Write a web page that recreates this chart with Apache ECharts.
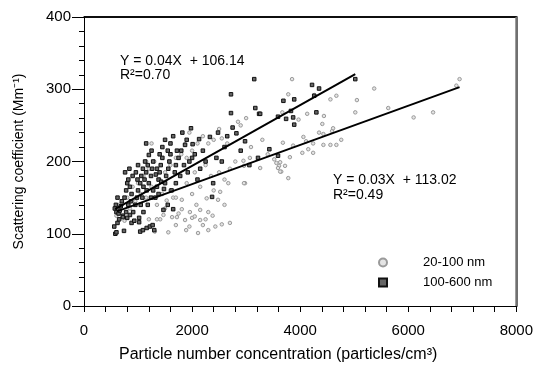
<!DOCTYPE html>
<html><head><meta charset="utf-8">
<script src="https://cdn.jsdelivr.net/npm/echarts@6/dist/echarts.min.js"></script>
<style>html,body{margin:0;padding:0;background:#fff}#c{width:536px;height:372px}</style>
</head><body><div id="c"></div>
<script>
const xTicks = [0, 2000, 4000, 6000, 8000];
const yTicks = [0, 100, 200, 300, 400];
const xTitle = 'Particle number concentration (particles/cm³)';
const yTitle = 'Scattering coefficient (Mm⁻¹)';
const seriesNames = ['20-100 nm', '100-600 nm'];

// 20-100 nm (gray circles)
const grayPts = [
  [1310,103],[1560,102],[1890,105],[2110,101],[2300,105],[2430,110],[2550,113],[2700,115],[1870,119],[2000,122],
  [2050,124],[2150,119],[1810,134],[1960,130],[2150,133],[2300,130],[2480,147],[2520,158],[2670,170],[2980,170],
  [1630,123],[1720,123],[1470,126],[1410,120],[1530,146],[1810,147],[2000,155],[2270,149],[2150,165],[1700,112],
  [1750,128],[2200,112],[2380,125],[2600,140],[2400,160],[1650,150],[2080,140],[2250,120],[1950,110],[1500,135],
  [2350,180],[2500,185],[2700,190],[2800,200],[2600,175],
  [700,140],[800,150],[900,165],[1000,170],[1100,180],[1200,190],[1300,200],[1400,175],[1500,185],[1600,195],
  [1700,205],[1800,210],[1900,205],[2000,215],[2100,225],[2200,235],[2300,225],[2400,230],[2500,245],[2550,232],
  [2650,225],[1600,160],[1700,150],[850,135],[950,145],[1050,155],[1150,150],[1250,165],[1350,140],[1450,155],
  [1900,170],[2050,185],[2250,195],[600,125],[650,140],[750,118],[1200,120],[1350,120],[1150,200],[1250,225],
  [1950,240],[1870,224],
  [2950,201],[2960,194],[3070,205],[3260,191],[3520,203],[3560,198],[3610,194],[3720,194],[3650,186],[3780,177],
  [3590,191],[3630,186],[3630,199],[3810,206],[4040,212],[4240,212],[4150,217],[3870,222],[3680,226],[4110,228],
  [4240,225],[4430,223],[4560,223],[4670,223],[4760,230],[4590,242],[4610,246],[4430,238],[4350,240],[4060,234],
  [4410,252],[4440,263],[4130,266],[3970,258],[3670,268],[5020,268],[5630,274],[6100,261],[6460,268],[4560,286],
  [4670,291],[4260,292],[3780,293],[5050,285],[5370,301],[3850,314],[6950,314],[6890,305],[3090,220],[2960,170],
  [3400,210],[3300,230],[2900,250],[3000,260],[2850,255]
];

// 100-600 nm (black squares)
const blackPts = [
  [560,110],[580,100],[600,102],[620,115],[650,120],[570,135],[590,140],[600,130],[640,128],[680,138],
  [700,145],[620,150],[660,132],[720,125],[740,104],
  [750,150],[780,160],[800,170],[820,175],[850,165],[880,155],[900,180],[760,185],[800,122],[850,126],
  [910,130],[950,140],[980,150],[1000,160],[720,123],[880,115],[930,118],[960,185],[990,175],[1000,195],
  [820,140],[870,145],[780,130],[840,190],
  [1020,122],[1020,116],[1040,103],[1090,105],[1160,108],[1220,110],[1300,105],[1270,112],[1050,140],[1080,150],
  [1100,165],[1120,175],[1150,185],[1180,195],[1200,209],[1060,180],[1090,190],[1130,200],[1160,160],[1200,170],
  [1240,180],[1260,190],[1280,200],[1240,150],[1280,160],[1040,170],[1100,130],[1180,140],[1250,215],[1150,225],
  [1320,150],[1350,165],[1380,175],[1400,185],[1420,195],[1450,205],[1470,133],[1500,170],[1520,180],[1550,140],
  [1560,190],[1580,200],[1600,210],[1620,160],[1650,134],[1680,185],[1700,195],[1350,190],[1400,210],[1450,220],
  [1500,230],[1550,215],[1600,225],[1650,235],[1380,155],[1430,172],[1480,162],[1330,182],[1700,170],
  [1750,205],[1800,215],[1870,223],[1900,230],[1980,246],[2010,224],[2130,231],[2330,234],[2480,240],[2370,151],
  [2390,170],[1850,195],[1950,200],[2050,210],[2150,190],[2200,215],[1780,180],[2250,200],[2100,175],[1720,215],
  [1820,240],[2000,205],[1920,185],
  [2750,247],[2820,239],[2720,267],[2720,293],[3150,314],[3170,274],[3240,266],[3260,266],[2980,228],[3060,195],
  [3220,205],[2600,220],[2550,200],[2900,215],[2650,235],[2450,205],
  [3430,217],[3590,208],[3590,262],[3740,259],[3870,261],[3890,251],[3830,270],[3690,284],[3890,286],[4220,306],
  [4350,301],[4260,291],[4300,268],[5020,314]
];

// fitted lines as drawn
const fitBlack = [[575,134],[5020,321]];
const fitGray = [[610,131],[6950,303]];
const eqBlack = ['Y = 0.04X  + 106.14', 'R²=0.70'];
const eqGray = ['Y = 0.03X  + 113.02', 'R²=0.49'];

const FONT = '"Liberation Sans", Arial, sans-serif';
const chart = echarts.init(document.getElementById('c'));
const xRange = {min: xTicks[0], max: xTicks[xTicks.length-1], interval: xTicks[1]-xTicks[0]};
const yRange = {min: yTicks[0], max: yTicks[yTicks.length-1], interval: yTicks[1]-yTicks[0]};
const plain = v => String(v);
const textEls = [
  {type: 'text', x: 120, y: 61, style: {text: eqBlack[0], font: '14px ' + FONT, fill: '#000', verticalAlign: 'middle'}},
  {type: 'text', x: 120, y: 75, style: {text: eqBlack[1], font: '14px ' + FONT, fill: '#000', verticalAlign: 'middle'}},
  {type: 'text', x: 333, y: 180, style: {text: eqGray[0], font: '14px ' + FONT, fill: '#000', verticalAlign: 'middle'}},
  {type: 'text', x: 333, y: 195, style: {text: eqGray[1], font: '14px ' + FONT, fill: '#000', verticalAlign: 'middle'}}
];
chart.setOption({
  animation: false,
  backgroundColor: '#fff',
  grid: {left: 84, right: 19, top: 17, bottom: 66},
  legend: {
    orient: 'vertical', left: 373, top: 251, itemWidth: 8, itemHeight: 8, itemGap: 7,
    data: [{name: seriesNames[0], icon: 'circle'}, {name: seriesNames[1], icon: 'rect'}],
    textStyle: {fontFamily: FONT, fontSize: 13, color: '#000', padding: [0,0,0,31]}
  },
  xAxis: [{
    type: 'value', position: 'bottom', ...xRange,
    axisLine: {show: true, onZero: false, lineStyle: {color: '#000', width: 1}},
    axisTick: {show: true, length: 6, lineStyle: {color: '#000'}},
    minorTick: {show: true, splitNumber: 5, length: 6, lineStyle: {color: '#000'}},
    splitLine: {show: false},
    axisLabel: {fontFamily: FONT, fontSize: 15, color: '#000', margin: 17, formatter: plain},
    name: xTitle, nameLocation: 'middle', nameGap: 41,
    nameTextStyle: {fontFamily: FONT, fontSize: 16, color: '#000', padding: [0,44,0,0]}
  }, {
    type: 'value', position: 'top', ...xRange,
    axisLine: {show: true, onZero: false, lineStyle: {color: '#000', width: 1.5}},
    axisTick: {show: false}, axisLabel: {show: true, formatter: () => ''}, splitLine: {show: false}
  }],
  yAxis: [{
    type: 'value', position: 'left', ...yRange,
    axisLine: {show: true, onZero: false, lineStyle: {color: '#000', width: 1}},
    axisTick: {show: true, length: 12, lineStyle: {color: '#000'}},
    minorTick: {show: true, splitNumber: 5, length: 5, lineStyle: {color: '#000'}},
    splitLine: {show: false},
    axisLabel: {fontFamily: FONT, fontSize: 15, color: '#000', margin: 13, formatter: plain},
    name: yTitle, nameLocation: 'middle', nameGap: 58,
    nameTextStyle: {fontFamily: FONT, fontSize: 14, color: '#000'}
  }, {
    type: 'value', position: 'right', ...yRange,
    axisLine: {show: true, onZero: false, lineStyle: {color: '#707070', width: 2}},
    axisTick: {show: false}, axisLabel: {show: true, formatter: () => ''}, splitLine: {show: false}
  }],
  graphic: textEls,
  series: [
    {name: seriesNames[0], type: 'scatter', data: grayPts, symbol: 'circle', symbolSize: 3.5,
     itemStyle: {color: '#e4e4e4', borderColor: '#9a9a9a', borderWidth: 1, opacity: 1}, z: 2},
    {name: seriesNames[1], type: 'scatter', data: blackPts, symbol: 'rect', symbolSize: 3.5,
     itemStyle: {color: '#666', borderColor: '#111', borderWidth: 1, opacity: 1}, z: 3},
    {type: 'line', data: fitBlack, xAxisIndex: 1, yAxisIndex: 1, symbol: 'none', lineStyle: {color: '#000', width: 2}, z: 4, silent: true},
    {type: 'line', data: fitGray, xAxisIndex: 1, yAxisIndex: 1, symbol: 'none', lineStyle: {color: '#000', width: 2}, z: 4, silent: true}
  ]
});
// frame: top (black) and right (gray) edges located through the grid's own scales
const tl = chart.convertToPixel({gridIndex: 0}, [xRange.min, yRange.max]);
const tr = chart.convertToPixel({gridIndex: 0}, [xRange.max, yRange.max]);
const br = chart.convertToPixel({gridIndex: 0}, [xRange.max, yRange.min]);
chart.setOption({
  graphic: textEls.concat([
    {type: 'line', z: 10, shape: {x1: tl[0], y1: tl[1], x2: tr[0], y2: tr[1]}, style: {stroke: '#000', lineWidth: 1.5}},
    {type: 'line', z: 10, shape: {x1: tr[0], y1: tr[1], x2: br[0], y2: br[1]}, style: {stroke: '#707070', lineWidth: 2}}
  ])
});
</script></body></html>
